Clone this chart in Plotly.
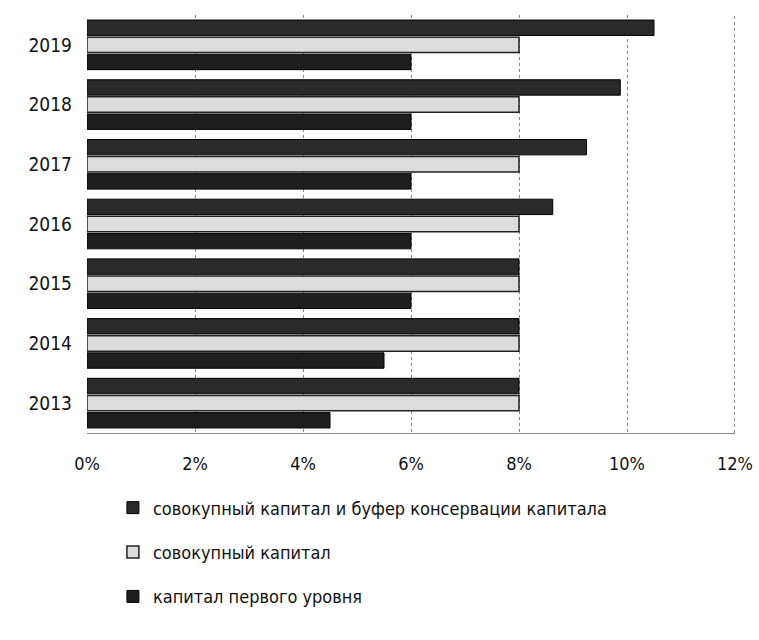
import plotly.graph_objects as go

years = ["2013", "2014", "2015", "2016", "2017", "2018", "2019"]
tier1 = [4.5, 5.5, 6.0, 6.0, 6.0, 6.0, 6.0]
total_capital = [8.0, 8.0, 8.0, 8.0, 8.0, 8.0, 8.0]
total_buffer = [8.0, 8.0, 8.0, 8.625, 9.25, 9.875, 10.5]
x_ticks = [0, 2, 4, 6, 8, 10, 12]
x_tick_labels = ["0%", "2%", "4%", "6%", "8%", "10%", "12%"]

names = ["капитал первого уровня", "совокупный капитал",
         "совокупный капитал и буфер консервации капитала"]

FONT = "DejaVu Sans Condensed, Liberation Sans Narrow, Roboto, sans-serif"

fig = go.Figure()
fig.add_trace(go.Bar(y=years, x=tier1, orientation="h", name=names[0],
                     legendgroup="a", legendrank=3,
                     marker=dict(color="#1e1e1e", line=dict(color="#000", width=1))))
fig.add_trace(go.Bar(y=years, x=total_capital, orientation="h", name=names[1],
                     legendgroup="b", legendrank=2,
                     marker=dict(color="#dcdcdc", line=dict(color="#222", width=1.5))))
fig.add_trace(go.Bar(y=years, x=total_buffer, orientation="h", name=names[2],
                     legendgroup="c", legendrank=1,
                     marker=dict(color="#2a2a2a", line=dict(color="#000", width=1))))

fig.update_layout(
    width=759, height=640,
    margin=dict(l=87, r=24, t=15, b=207, autoexpand=False),
    paper_bgcolor="white", plot_bgcolor="white",
    barmode="group", bargap=0.14, bargroupgap=0.1,
    font=dict(family=FONT, size=17, color="#111"),
    showlegend=True,
    legend=dict(orientation="v", x=0.04, xanchor="left", y=-0.135, yanchor="top",
                traceorder="grouped", tracegroupgap=18,
                itemwidth=30,
                font=dict(family=FONT, size=18, color="#111"),
                bgcolor="rgba(0,0,0,0)"),
    xaxis=dict(range=[0, 12], tickvals=x_ticks, ticktext=x_tick_labels,
               automargin=False,
               showgrid=True, gridcolor="#888", griddash="dot", gridwidth=1,
               zeroline=False, showline=True, linecolor="#888", mirror=False,
               ticks="", ticklabelstandoff=14,
               tickfont=dict(family=FONT, size=18, color="#111")),
    yaxis=dict(categoryorder="array", categoryarray=years, automargin=False,
               showgrid=False, zeroline=False, showline=False,
               ticks="", ticklabelstandoff=14,
               tickfont=dict(family=FONT, size=19, color="#111")),
)
fig.add_shape(type="line", xref="x", yref="paper", x0=12, x1=12, y0=0, y1=1,
              line=dict(color="#777", width=1.5, dash="dot"))

fig.write_html("out.html")
